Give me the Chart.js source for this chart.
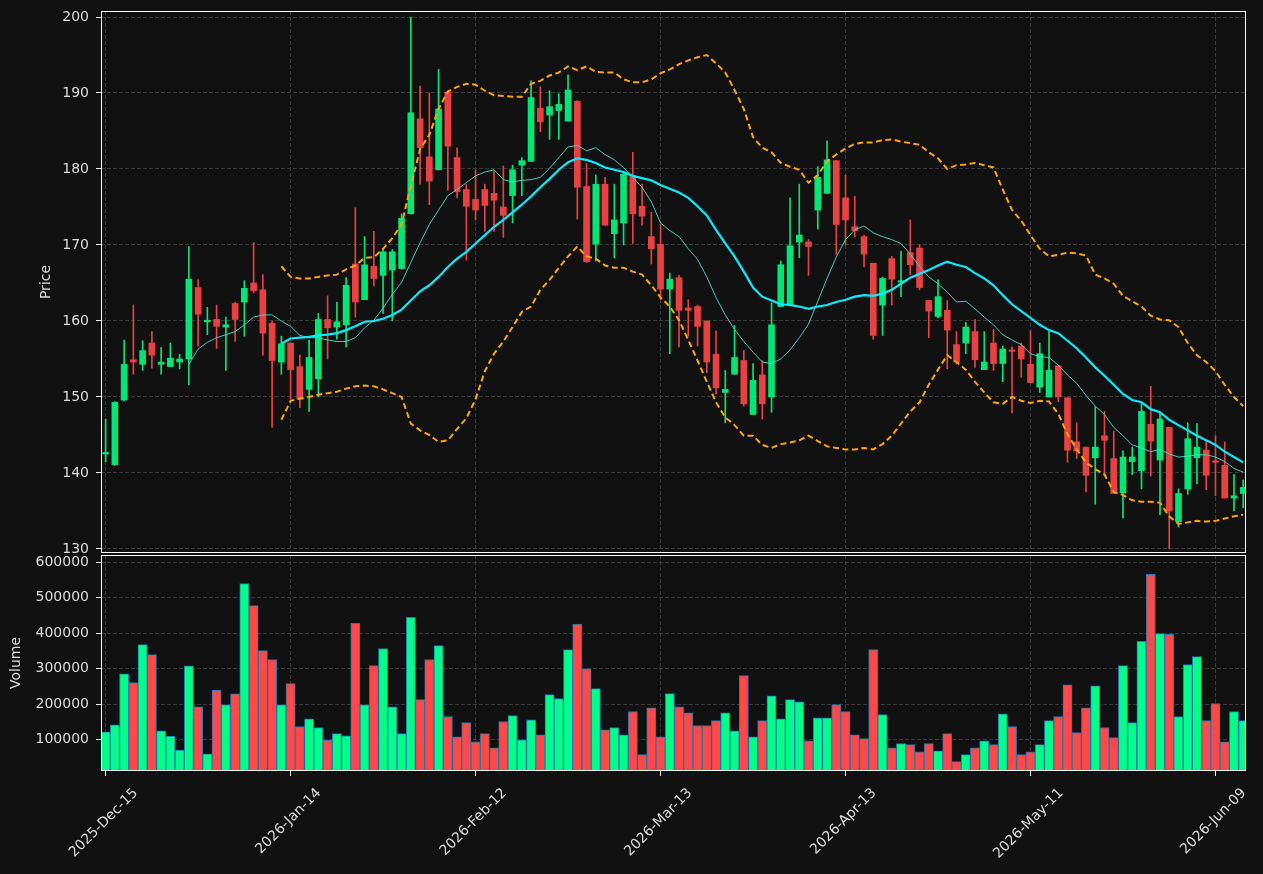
<!DOCTYPE html>
<html>
<head>
<meta charset="utf-8">
<title>Price and volume</title>
<script src="https://cdn.jsdelivr.net/npm/chart.js@4.4.0/dist/chart.umd.min.js"></script>
<style>
  html, body { margin: 0; padding: 0; background: #111111; }
  #wrap { position: relative; width: 1263px; height: 874px; background: #111111; overflow: hidden; }
  #priceBox { position: absolute; left: 0; top: 0; width: 1263px; height: 555px; }
  #volBox { position: absolute; left: 0; top: 553px; width: 1263px; height: 321px; }
</style>
</head>
<body>
<div id="wrap">
  <div id="priceBox"><canvas id="price" width="1263" height="555"></canvas></div>
  <div id="volBox"><canvas id="vol" width="1263" height="321"></canvas></div>
</div>
<script>
// trading days
const dates = [
  '2025-Dec-15','2025-Dec-16','2025-Dec-17','2025-Dec-18','2025-Dec-19','2025-Dec-22','2025-Dec-23','2025-Dec-24','2025-Dec-26','2025-Dec-29','2025-Dec-30','2025-Dec-31',
  '2026-Jan-02','2026-Jan-05','2026-Jan-06','2026-Jan-07','2026-Jan-08','2026-Jan-09','2026-Jan-12','2026-Jan-13','2026-Jan-14','2026-Jan-15','2026-Jan-16','2026-Jan-20','2026-Jan-21','2026-Jan-22','2026-Jan-23','2026-Jan-26','2026-Jan-27','2026-Jan-28','2026-Jan-29','2026-Jan-30',
  '2026-Feb-02','2026-Feb-03','2026-Feb-04','2026-Feb-05','2026-Feb-06','2026-Feb-09','2026-Feb-10','2026-Feb-11','2026-Feb-12','2026-Feb-13','2026-Feb-17','2026-Feb-18','2026-Feb-19','2026-Feb-20','2026-Feb-23','2026-Feb-24','2026-Feb-25','2026-Feb-26','2026-Feb-27',
  '2026-Mar-02','2026-Mar-03','2026-Mar-04','2026-Mar-05','2026-Mar-06','2026-Mar-09','2026-Mar-10','2026-Mar-11','2026-Mar-12','2026-Mar-13','2026-Mar-16','2026-Mar-17','2026-Mar-18','2026-Mar-19','2026-Mar-20','2026-Mar-23','2026-Mar-24','2026-Mar-25','2026-Mar-26','2026-Mar-27','2026-Mar-30','2026-Mar-31',
  '2026-Apr-01','2026-Apr-02','2026-Apr-06','2026-Apr-07','2026-Apr-08','2026-Apr-09','2026-Apr-10','2026-Apr-13','2026-Apr-14','2026-Apr-15','2026-Apr-16','2026-Apr-17','2026-Apr-20','2026-Apr-21','2026-Apr-22','2026-Apr-23','2026-Apr-24','2026-Apr-27','2026-Apr-28','2026-Apr-29','2026-Apr-30',
  '2026-May-01','2026-May-04','2026-May-05','2026-May-06','2026-May-07','2026-May-08','2026-May-11','2026-May-12','2026-May-13','2026-May-14','2026-May-15','2026-May-18','2026-May-19','2026-May-20','2026-May-21','2026-May-22','2026-May-26','2026-May-27','2026-May-28','2026-May-29',
  '2026-Jun-01','2026-Jun-02','2026-Jun-03','2026-Jun-04','2026-Jun-05','2026-Jun-08','2026-Jun-09','2026-Jun-10','2026-Jun-11','2026-Jun-12'
];
const tickIdx = [0, 20, 40, 60, 80, 100, 120];

const opens = [
  142.5,141.1,149.6,154.9,154.3,157.1,154.3,154.0,154.6,155.0,164.4,159.9,160.2,159.2,162.3,162.5,165.0,164.1,159.7,154.6,
  157.1,154.0,151.0,152.4,160.2,159.2,159.5,167.5,162.8,167.2,166.0,166.7,166.9,174.1,186.6,181.6,179.9,190.1,181.5,177.3,
  176.0,177.3,176.8,175.0,176.5,180.5,181.0,188.0,187.1,187.7,186.3,188.9,177.7,170.1,178.0,171.5,172.9,179.0,175.1,171.1,
  170.1,164.2,165.7,161.7,161.9,160.0,155.6,150.6,153.0,154.8,147.7,152.9,150.0,161.9,162.1,170.4,170.4,174.6,176.8,181.1,
  176.2,172.4,171.1,167.6,162.1,168.2,165.1,169.0,169.6,162.7,160.6,161.4,156.9,157.1,158.6,153.6,157.1,154.4,156.1,156.7,
  154.3,151.3,150.0,154.1,149.9,144.1,143.4,142.0,144.9,141.9,137.4,141.5,140.3,146.4,141.7,146.0,133.6,137.9,142.0,143.0,
  141.5,141.0,136.7,137.3
];
const highs = [
  147.1,149.4,157.5,162.1,157.4,158.6,156.5,157.1,155.6,169.8,165.4,161.8,162.1,160.5,162.5,165.3,170.3,166.1,160.0,158.0,
  157.1,155.5,157.5,161.0,163.3,162.5,165.7,174.9,171.1,171.8,169.4,169.4,174.1,200.0,190.9,190.0,193.1,190.1,182.8,178.0,
  179.9,178.0,179.8,180.4,180.5,181.5,191.6,190.8,190.3,189.9,192.4,189.0,180.7,179.2,178.9,178.0,179.6,182.2,178.0,174.3,
  172.7,166.3,166.0,162.8,162.1,160.0,158.7,153.5,159.4,156.1,154.4,154.8,162.4,167.9,176.2,178.0,170.7,180.3,183.7,181.1,
  179.2,176.4,171.3,167.6,165.8,168.5,169.2,173.3,170.0,162.7,165.4,162.7,158.6,159.8,160.2,158.6,158.9,156.7,156.6,157.1,
  158.7,157.1,158.6,154.1,149.9,146.6,143.4,148.7,148.1,145.5,142.9,143.4,149.1,151.4,147.9,146.0,137.9,146.6,146.5,144.2,
  144.9,144.1,139.8,139.1
];
const lows = [
  141.5,141.0,149.5,153.0,153.5,153.8,153.0,154.0,153.7,151.6,156.7,158.2,156.4,153.5,157.3,158.0,163.7,155.5,146.0,153.0,
  149.7,148.6,148.1,150.0,155.0,157.6,156.6,160.5,162.8,164.6,161.0,160.0,166.8,174.1,178.0,175.3,179.9,177.2,176.2,168.0,
  173.3,171.8,171.8,171.0,172.9,176.5,181.0,184.9,183.9,183.9,186.3,173.4,167.7,167.9,172.6,168.3,170.0,170.2,172.6,167.5,
  162.8,155.7,156.6,158.0,156.7,153.2,150.4,146.6,153.0,148.8,147.7,147.1,148.0,161.9,162.1,168.3,166.0,172.1,176.8,168.8,
  170.0,171.1,167.1,157.6,158.1,162.1,163.2,166.1,164.1,157.8,160.4,153.7,154.3,155.7,153.9,153.6,153.5,152.0,147.9,152.6,
  151.9,150.6,150.0,149.4,141.4,141.9,137.5,135.9,139.6,137.3,134.1,139.8,137.9,139.6,134.5,130.0,132.9,137.2,138.6,137.8,
  137.0,136.7,135.0,135.4
];
const closes = [
  142.7,149.3,154.3,154.6,156.1,155.5,154.6,155.1,155.0,165.5,160.9,160.0,159.3,159.5,160.2,164.3,164.0,158.4,154.8,157.0,
  153.6,149.7,155.2,160.2,159.1,159.9,164.7,162.5,167.4,165.6,169.1,169.1,173.5,187.4,182.8,178.4,187.9,183.0,177.0,175.1,
  174.6,175.2,175.9,173.9,179.9,181.1,189.4,186.2,188.2,188.5,190.4,177.6,167.8,178.0,172.6,173.3,179.3,174.1,173.8,169.5,
  164.2,165.5,161.4,161.4,159.3,154.6,151.2,151.0,155.2,149.1,152.2,149.1,159.5,167.4,169.9,171.3,169.8,178.9,181.2,172.7,
  173.3,171.9,168.8,158.1,165.6,165.5,165.3,167.4,164.4,161.3,163.2,158.8,154.6,159.2,154.9,154.6,154.4,156.3,156.0,155.0,
  151.9,155.7,153.5,150.0,143.0,142.9,139.7,143.4,144.3,137.3,142.1,142.1,148.1,144.2,147.1,135.0,137.3,144.5,143.4,139.7,
  141.4,136.7,137.0,138.1
];
const volumes = [
  122000,142000,286000,261000,368000,340000,125000,110000,71000,308000,193000,60000,240000,198000,229000,540000,478000,351000,326000,198000,
  258000,137000,159000,134000,99000,117000,111000,428000,198000,309000,357000,193000,117000,445000,213000,326000,365000,165000,108000,148000,
  94000,117000,77000,151000,168000,100000,156000,114000,227000,216000,354000,426000,300000,244000,128000,134000,114000,179000,58000,190000,
  108000,230000,193000,176000,140000,140000,154000,176000,125000,281000,108000,154000,224000,159000,213000,207000,97000,162000,162000,199000,
  179000,114000,103000,354000,171000,77000,89000,86000,66000,89000,69000,117000,38000,58000,77000,97000,86000,173000,137000,58000,
  66000,86000,154000,165000,255000,120000,190000,252000,134000,106000,309000,148000,377000,566000,399000,397000,165000,312000,334000,154000,
  202000,94000,179000,154000
];

// 10-day and 20-day averages
const ma10 = [
  null,null,null,null,null,null,null,null,null,154.3,156.3,157.2,157.8,158.2,158.6,159.5,160.5,160.8,160.8,160.0,
  159.3,158.1,157.8,157.8,157.5,157.3,157.3,157.8,159.1,160.1,161.7,163.5,165.1,167.7,170.3,172.7,174.6,176.5,177.3,178.2,
  179.1,179.6,179.9,178.6,178.3,178.5,178.6,178.9,180.1,181.5,182.9,183.1,182.4,182.8,181.9,181.2,180.2,178.9,177.6,175.7,
  172.9,171.9,171.1,169.5,168.1,165.8,163.1,160.8,158.9,157.3,155.9,154.6,154.4,155.0,156.2,157.8,159.6,162.6,165.6,168.4,
  170.7,172.0,172.5,171.6,171.1,170.7,170.2,168.8,167.2,165.8,164.9,163.8,162.5,162.6,161.6,160.5,159.5,158.2,157.5,156.9,
  155.7,155.3,155.2,154.2,152.9,151.8,150.2,148.8,147.7,146.0,144.9,143.7,143.3,142.8,143.1,142.5,142.1,142.2,142.4,142.4,
  142.1,141.5,140.6,140.1
];
const ma20 = [
  null,null,null,null,null,null,null,null,null,null,null,null,null,null,null,null,null,null,null,157.0,
  157.7,157.8,157.9,158.1,158.2,158.4,158.8,159.3,159.9,160.0,160.3,160.8,161.5,162.7,163.9,164.7,165.8,167.1,168.2,169.1,
  170.2,171.3,172.4,173.3,174.3,175.3,176.4,177.6,178.7,179.9,180.9,181.4,181.2,180.8,180.2,179.9,179.6,179.1,178.8,178.5,
  177.9,177.4,176.9,176.2,175.1,173.9,172.0,170.2,168.5,166.5,164.4,163.2,162.7,162.2,162.1,161.9,161.6,161.9,162.1,162.5,
  162.8,163.2,163.4,163.3,163.6,164.1,164.9,165.7,166.2,166.7,167.3,167.8,167.4,167.1,166.3,165.6,164.7,163.4,162.2,161.3,
  160.4,159.5,158.8,158.4,157.4,156.4,155.2,153.9,152.8,151.6,150.4,149.6,149.3,148.4,148.0,147.0,146.3,145.6,144.9,144.3,
  143.7,142.8,142.1,141.4
];
const bbUpper = [
  null,null,null,null,null,null,null,null,null,null,null,null,null,null,null,null,null,null,null,167.2,
  165.8,165.6,165.6,165.8,166.0,166.1,166.8,167.3,168.3,168.4,169.5,170.9,172.7,177.8,182.6,184.5,187.9,190.2,190.8,191.2,
  191.1,190.3,189.7,189.6,189.5,189.5,191.2,191.6,192.3,192.7,193.5,193.0,193.5,192.8,192.7,192.7,191.8,191.4,191.4,191.8,
  192.6,193.1,193.8,194.3,194.7,195.0,193.9,192.7,190.4,187.9,184.2,182.8,182.2,180.8,180.3,179.9,178.2,179.2,181.0,181.9,
  182.7,183.3,183.5,183.5,183.8,183.9,183.6,183.4,183.2,182.2,181.4,180.0,180.5,180.6,180.8,180.5,180.2,177.3,174.6,173.2,
  171.3,169.5,168.5,168.7,169.0,168.9,168.6,166.1,165.6,164.9,163.3,162.6,161.9,160.7,160.2,160.1,159.2,157.1,155.5,154.6,
  153.4,151.6,150.0,148.8
];
const bbLower = [
  null,null,null,null,null,null,null,null,null,null,null,null,null,null,null,null,null,null,null,147.0,
  149.5,149.8,150.0,150.3,150.5,150.7,151.1,151.4,151.5,151.4,151.0,150.5,150.0,146.5,145.6,145.0,144.1,144.3,145.8,147.2,
  149.7,153.4,155.7,157.3,159.2,161.2,161.9,164.1,165.4,167.0,168.5,169.8,168.5,168.2,167.3,167.0,167.0,166.5,166.1,164.7,
  163.1,161.9,160.1,157.5,154.8,152.0,149.3,147.3,146.3,144.9,144.9,143.7,143.3,143.8,144.0,144.3,144.9,144.2,143.5,143.3,
  143.1,143.1,143.3,143.1,143.8,144.9,146.5,148.1,149.3,151.6,153.6,155.5,154.6,153.6,152.0,150.6,149.3,149.1,150.0,149.5,
  149.2,149.5,149.4,147.8,145.1,143.1,141.4,140.5,139.8,137.5,137.1,136.4,136.2,136.2,136.1,134.3,133.3,133.5,133.7,133.6,
  133.7,134.0,134.3,134.5
];

const priceTicks = [130, 140, 150, 160, 170, 180, 190, 200];
const volTicks = [100000, 200000, 300000, 400000, 500000, 600000];

const UP = '#00e676', DOWN = '#e84142';
const VOL_UP = '#00ff88', VOL_DOWN = '#ff4848';
const TEXT = '#dddddd', GRID = '#3a3a3a';
const X_MIN = -0.5, X_MAX = 123.3;
const VOL_MIN = 11800, VOL_MAX = 620600;

Chart.defaults.font.family = "'DejaVu Sans', sans-serif";
Chart.defaults.font.size = 14;
Chart.defaults.color = TEXT;

const isUp = closes.map((c, i) => c >= opens[i]);
const candleColors = isUp.map(u => u ? UP : DOWN);
const volColors = isUp.map(u => u ? VOL_UP : VOL_DOWN);
const pts = arr => arr.map((v, i) => ({ x: i, y: v }));

// white box round each panel
const frame = {
  id: 'frame',
  afterDraw(chart) {
    const { ctx, chartArea: a } = chart;
    ctx.save();
    ctx.strokeStyle = '#ffffff';
    ctx.lineWidth = 1;
    ctx.strokeRect(Math.round(a.left) + 0.5, Math.round(a.top) + 0.5,
      Math.round(a.right - a.left) - 1, Math.round(a.bottom - a.top) - 1);
    ctx.restore();
  }
};

// rotated date labels, centred under each tick
const dateLabels = {
  id: 'dateLabels',
  afterDraw(chart) {
    const { ctx, chartArea: a } = chart;
    const x = chart.scales.x;
    ctx.save();
    ctx.fillStyle = TEXT;
    ctx.font = "14px 'DejaVu Sans', sans-serif";
    ctx.textAlign = 'center';
    ctx.textBaseline = 'middle';
    tickIdx.forEach(i => {
      const label = dates[i];
      const w = ctx.measureText(label).width;
      const half = (w + 14) / (2 * Math.SQRT2);
      ctx.save();
      ctx.translate(x.getPixelForValue(i) - 2, a.bottom + 15 + half);
      ctx.rotate(-Math.PI / 4);
      ctx.fillText(label, 0, 0);
      ctx.restore();
    });
    ctx.restore();
  }
};

function xAxis(bottom) {
  return {
    type: 'linear', min: X_MIN, max: X_MAX, offset: false,
    afterBuildTicks: s => { s.ticks = tickIdx.map(v => ({ value: v })); },
    grid: { color: GRID, offset: false, drawTicks: bottom, tickLength: 5, tickColor: '#ffffff', tickWidth: 1 },
    border: { display: false, dash: [4, 2] },
    ticks: { display: false },
    afterFit: s => { s.height = bottom ? 103 : 0; s.paddingLeft = 0; s.paddingRight = 0; }
  };
}

function yAxis(min, max, ticks, title, titlePad) {
  return {
    type: 'linear', min: min, max: max,
    afterBuildTicks: s => { s.ticks = ticks.map(v => ({ value: v })); },
    grid: { color: GRID, tickLength: 5, tickColor: '#ffffff', tickWidth: 1 },
    border: { display: false, dash: [4, 2] },
    ticks: { color: TEXT, padding: 7, callback: v => String(v) },
    title: { display: true, text: title, color: TEXT, font: { size: 14 }, padding: { top: titlePad, bottom: 0 } },
    // keep the plot box where the panel is, labels may hang over
    afterFit: s => { s.width = 101; s.paddingTop = 0; s.paddingBottom = 0; }
  };
}

const line = (data, color, width, dash) => ({
  type: 'line', data: pts(data), borderColor: color, borderWidth: width,
  borderDash: dash || [], pointRadius: 0, tension: 0, fill: false, order: 0
});

new Chart(document.getElementById('price'), {
  type: 'bar',
  data: {
    datasets: [
      { type: 'bar', data: highs.map((h, i) => ({ x: i, y: [lows[i], h] })),
        backgroundColor: candleColors, barThickness: 1, grouped: false, order: 3 },
      { type: 'bar', data: opens.map((o, i) => ({ x: i, y: [o, closes[i]] })),
        backgroundColor: candleColors, barThickness: 6, minBarLength: 1.5, grouped: false, order: 2 },
      line(ma10, 'rgba(64,224,208,0.9)', 1),
      line(ma20, '#00eeff', 2.2),
      line(bbUpper, '#ffa500', 2, [6, 3.5]),
      line(bbLower, '#ffa500', 2, [6, 3.5])
    ]
  },
  options: {
    responsive: false, animation: false,
    layout: { padding: { left: 0, top: 11, right: 17, bottom: 2 } },
    plugins: { legend: { display: false }, tooltip: { enabled: false } },
    scales: { x: xAxis(false), y: yAxis(129.47, 200.79, priceTicks, 'Price', 37.6) }
  },
  plugins: [frame]
});

new Chart(document.getElementById('vol'), {
  type: 'bar',
  data: {
    datasets: [{
      data: pts(volumes), backgroundColor: volColors, borderColor: '#1f77b4', borderWidth: 1,
      barPercentage: 1, categoryPercentage: 1, base: VOL_MIN, grouped: false
    }]
  },
  options: {
    responsive: false, animation: false,
    layout: { padding: { left: 0, top: 2, right: 17, bottom: 0 } },
    plugins: { legend: { display: false }, tooltip: { enabled: false } },
    scales: { x: xAxis(true), y: yAxis(VOL_MIN, VOL_MAX, volTicks, 'Volume', 8.3) }
  },
  plugins: [frame, dateLabels]
});
</script>
</body>
</html>
